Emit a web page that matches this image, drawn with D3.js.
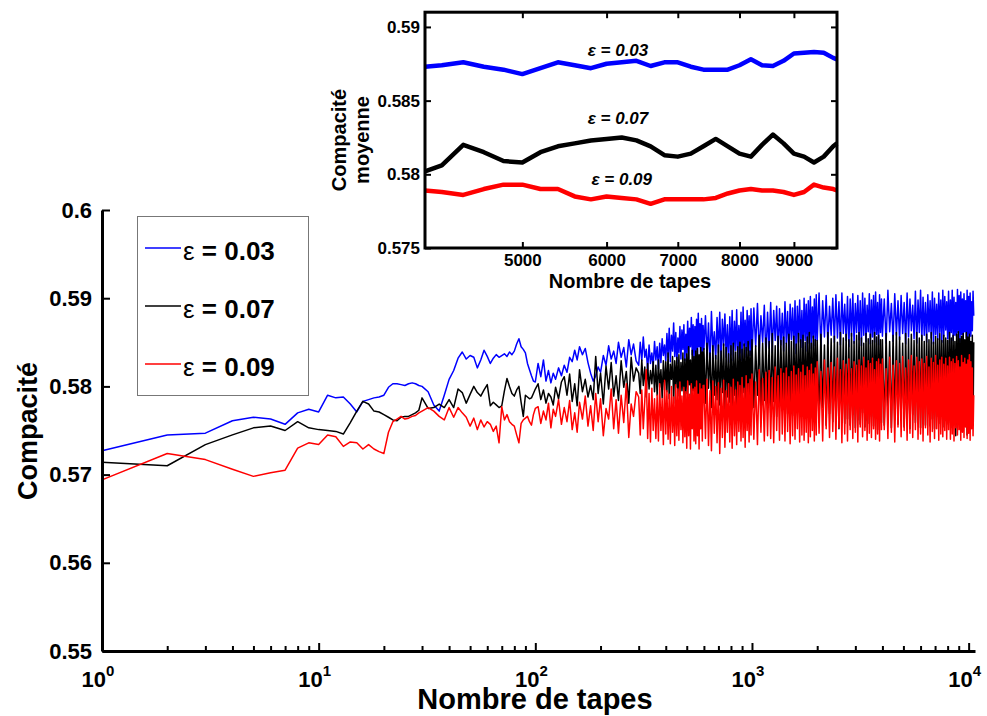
<!DOCTYPE html>
<html><head><meta charset="utf-8">
<script src="https://cdn.jsdelivr.net/npm/d3@7"></script>
<style>html,body{margin:0;padding:0;background:#fff;} svg{display:block;font-family:"Liberation Sans",Arial,sans-serif;}</style>
</head><body><svg id="c" width="987" height="716"></svg>
<script>
// ---------- DATA ----------
const taps = [
 1,2,3,4,5,6,7,8,9,10,11,12,13,14,15,16,17,18,19,20,21,22,23,24,25,26,27,28,29,30,
 32,34,36,38,40,42,44,46,48,50,52,54,56,58,60,62,64,66,68,70,72,74,76,78,80,82,84,86,88,90,92,94,96,98,100,
 103,106,109,112,115,118,121,124,128,132,
 136,140,144,148,152,156,160,165,170,175,
 180,185,190,195,200,206,212,218,224,230,
 236,242,249,256,263,270,277,284,292,
 300,305,310,315,320,325,330,335,340,345,350,355,360,365,370,375,380,385,390,395,
 400,405,410,415,420,425,430,435,440,445,450,455,460,465,470,475,480,485,490,495,
 500,505,510,515,520,525,530,535,540,545,550,555,560,565,570,575,580,585,590,595,
 600,610,620,630,640,650,660,670,680,690,700,710,720,730,740,750,760,770,780,790,
 800,810,820,830,840,850,860,870,880,890,900,910,920,930,940,950,960,970,980,990,
 1000,1020,1040,1060,1080,1100,1120,1140,1160,1180,1200,1220,1240,1260,1280,1300,1320,1340,1360,1380,
 1400,1420,1440,1460,1480,1500,1520,1540,1560,1580,1600,1620,1640,1660,1680,1700,1720,1740,1760,1780,
 1800,1820,1840,1860,1880,1900,1920,1940,1960,1980,
 2000,2040,2080,2120,2160,2200,2240,2280,2320,2360,2400,2440,2480,2520,2560,2600,2640,2680,2720,2760,
 2800,2840,2880,2920,2960,3000,3040,3080,3120,3160,3200,3240,3280,3320,3360,3400,3440,3480,3520,3560,
 3600,3640,3680,3720,3760,3800,3840,3880,3920,3960,
 4000,4080,4160,4240,4320,4400,4480,4560,4640,4720,4800,4880,4960,5040,5120,5200,5280,5360,5440,5520,
 5600,5680,5760,5840,5920,6000,6080,6160,6240,6320,6400,6480,6560,6640,6720,6800,6880,6960,7040,7120,
 7200,7280,7360,7440,7520,7600,7680,7760,7840,7920,
 8000,8080,8160,8240,8320,8400,8480,8560,8640,8720,8800,8880,8960,9040,9120,9200,9280,9360,9440,9520,
 9600,9680,9760,9840,9920,10000,10080,10160,10240,10320,10400,10480,10560
];
const blueMain = [
 0.5727,0.5745,0.5747,0.5761,0.5765,0.5763,0.5757,0.5770,0.5774,0.5771,
 0.5790,0.5787,0.5788,0.5780,0.5771,0.5783,0.5785,0.5787,0.5788,0.5790,
 0.5799,0.5803,0.5803,0.5802,0.5801,0.5803,0.5804,0.5803,0.5801,0.5800,
 0.5794,0.5779,0.5772,0.5790,0.5808,0.5818,0.5832,0.5839,0.5831,0.5835,
 0.5833,0.5821,0.5830,0.5841,0.5834,0.5826,0.5832,0.5836,0.5833,0.5835,
 0.5837,0.5834,0.5839,0.5836,0.5840,0.5848,0.5854,0.5845,0.5842,0.5838,
 0.5826,0.5819,0.5812,0.5806,0.5805,
 // 103-292
 0.5826,0.5811,0.5830,0.5806,0.5818,0.5804,0.5815,0.5808,0.5821,0.5812,
 0.5824,0.5816,0.5833,0.5828,0.5841,0.5830,0.5845,0.5836,0.5843,0.5827,
 0.5815,0.5806,0.5812,0.5822,0.5816,0.5835,0.5824,0.5846,0.5831,0.5840,
 0.5826,0.5850,0.5833,0.5844,0.5822,0.5853,0.5836,0.5848,0.5829,
 // 300-595
 0.5824,0.5850,0.5829,0.5856,0.5833,0.5842,0.5818,0.5847,0.5826,0.5838,
 0.5822,0.5851,0.5830,0.5845,0.5820,0.5849,0.5827,0.5854,0.5835,0.5847,
 0.5829,0.5860,0.5833,0.5866,0.5828,0.5858,0.5840,0.5872,0.5834,0.5861,
 0.5826,0.5855,0.5838,0.5868,0.5831,0.5864,0.5842,0.5870,0.5829,0.5859,
 0.5838,0.5874,0.5831,0.5866,0.5845,0.5878,0.5836,0.5870,0.5829,0.5868,
 0.5840,0.5876,0.5834,0.5883,0.5845,0.5871,0.5830,0.5877,0.5838,0.5869,
 // 600-990
 0.5842,0.5880,0.5835,0.5872,0.5824,0.5885,0.5840,0.5862,0.5831,0.5878,
 0.5838,0.5884,0.5829,0.5876,0.5846,0.5882,0.5833,0.5870,0.5827,0.5879,
 0.5836,0.5886,0.5829,0.5874,0.5841,0.5887,0.5832,0.5869,0.5838,0.5884,
 0.5829,0.5890,0.5846,0.5875,0.5833,0.5886,0.5841,0.5880,0.5835,0.5888,
 // 1000-1980
 0.5834,0.5889,0.5845,0.5894,0.5837,0.5880,0.5850,0.5892,0.5832,0.5884,
 0.5843,0.5895,0.5838,0.5886,0.5852,0.5891,0.5836,0.5888,0.5847,0.5883,
 0.5840,0.5896,0.5849,0.5885,0.5835,0.5893,0.5853,0.5889,0.5842,0.5897,
 0.5837,0.5891,0.5850,0.5898,0.5844,0.5886,0.5838,0.5900,0.5852,0.5893,
 0.5840,0.5897,0.5849,0.5902,0.5843,0.5890,0.5855,0.5899,0.5846,0.5904,
 // 2000-3960
 0.5852,0.5906,0.5844,0.5897,0.5856,0.5903,0.5848,0.5891,0.5858,0.5900,
 0.5850,0.5904,0.5855,0.5896,0.5847,0.5906,0.5860,0.5893,0.5852,0.5902,
 0.5845,0.5899,0.5857,0.5905,0.5849,0.5894,0.5861,0.5903,0.5853,0.5897,
 0.5846,0.5906,0.5858,0.5900,0.5851,0.5892,0.5862,0.5905,0.5848,0.5898,
 0.5856,0.5903,0.5850,0.5907,0.5859,0.5895,0.5847,0.5904,0.5861,0.5899,
 // 4000-7920
 0.5857,0.5899,0.5849,0.5909,0.5862,0.5894,0.5851,0.5905,0.5858,0.5897,
 0.5853,0.5903,0.5860,0.5895,0.5848,0.5906,0.5856,0.5899,0.5863,0.5892,
 0.5854,0.5908,0.5849,0.5898,0.5861,0.5909,0.5852,0.5901,0.5858,0.5895,
 0.5850,0.5904,0.5862,0.5897,0.5855,0.5907,0.5848,0.5900,0.5859,0.5893,
 0.5853,0.5906,0.5861,0.5898,0.5850,0.5909,0.5857,0.5902,0.5864,0.5896,
 // 8000-10560
 0.5854,0.5908,0.5849,0.5898,0.5861,0.5909,0.5852,0.5901,0.5858,0.5895,
 0.5856,0.5910,0.5861,0.5903,0.5850,0.5907,0.5859,0.5899,0.5853,0.5905,
 0.5862,0.5897,0.5855,0.5909,0.5848,0.5902,0.5860,0.5906,0.5857,0.5896,
 0.5863,0.5908,0.5880
];
const blackMain = [
 0.5714,0.5710,0.5734,0.5745,0.5753,0.5755,0.5750,0.5760,0.5753,0.5751,
 0.5750,0.5749,0.5746,0.5759,0.5772,0.5783,0.5780,0.5772,0.5771,0.5768,
 0.5765,0.5762,0.5761,0.5765,0.5766,0.5766,0.5768,0.5770,0.5773,0.5787,
 0.5775,0.5776,0.5780,0.5776,0.5785,0.5776,0.5797,0.5793,0.5781,0.5791,
 0.5800,0.5793,0.5789,0.5796,0.5802,0.5778,0.5782,0.5779,0.5776,0.5778,
 0.5795,0.5809,0.5800,0.5792,0.5789,0.5796,0.5800,0.5782,0.5766,0.5790,
 0.5788,0.5786,0.5787,0.5792,0.5797,
 // 103-292
 0.5803,0.5785,0.5796,0.5781,0.5792,0.5788,0.5779,0.5799,0.5786,0.5805,
 0.5811,0.5790,0.5814,0.5783,0.5803,0.5778,0.5819,0.5794,0.5808,0.5788,
 0.5801,0.5785,0.5834,0.5792,0.5815,0.5780,0.5823,0.5797,0.5827,0.5789,
 0.5812,0.5784,0.5829,0.5799,0.5817,0.5781,0.5833,0.5806,0.5821,
 // 300-595
 0.5815,0.5792,0.5830,0.5801,0.5822,0.5788,0.5826,0.5797,0.5818,0.5803,
 0.5828,0.5794,0.5824,0.5790,0.5830,0.5799,0.5819,0.5787,0.5829,0.5796,
 0.5828,0.5794,0.5838,0.5786,0.5825,0.5808,0.5834,0.5781,0.5829,0.5799,
 0.5833,0.5789,0.5836,0.5784,0.5827,0.5795,0.5838,0.5782,0.5831,0.5792,
 0.5837,0.5790,0.5845,0.5802,0.5830,0.5779,0.5841,0.5795,0.5834,0.5786,
 0.5840,0.5783,0.5843,0.5791,0.5836,0.5778,0.5844,0.5788,0.5839,0.5782,
 // 600-990
 0.5843,0.5781,0.5849,0.5798,0.5838,0.5776,0.5846,0.5790,0.5835,0.5785,
 0.5847,0.5779,0.5840,0.5793,0.5848,0.5774,0.5844,0.5788,0.5837,0.5782,
 0.5846,0.5776,0.5849,0.5790,0.5839,0.5775,0.5845,0.5786,0.5850,0.5779,
 0.5842,0.5793,0.5848,0.5774,0.5844,0.5788,0.5851,0.5782,0.5840,0.5777,
 // 1000-1980
 0.5853,0.5776,0.5846,0.5790,0.5858,0.5771,0.5849,0.5784,0.5855,0.5780,
 0.5851,0.5770,0.5860,0.5783,0.5846,0.5766,0.5857,0.5778,0.5852,0.5772,
 0.5856,0.5781,0.5849,0.5769,0.5859,0.5776,0.5851,0.5767,0.5857,0.5785,
 0.5848,0.5771,0.5860,0.5779,0.5853,0.5766,0.5858,0.5774,0.5850,0.5768,
 0.5856,0.5782,0.5861,0.5770,0.5849,0.5764,0.5857,0.5777,0.5853,0.5769,
 // 2000-3960
 0.5852,0.5762,0.5859,0.5776,0.5847,0.5756,0.5861,0.5769,0.5854,0.5760,
 0.5857,0.5765,0.5850,0.5752,0.5861,0.5771,0.5855,0.5758,0.5859,0.5763,
 0.5853,0.5756,0.5860,0.5768,0.5851,0.5753,0.5858,0.5762,0.5861,0.5757,
 0.5855,0.5770,0.5849,0.5754,0.5860,0.5761,0.5854,0.5758,0.5859,0.5766,
 0.5852,0.5755,0.5861,0.5764,0.5856,0.5751,0.5858,0.5767,0.5853,0.5759,
 // 4000-7920
 0.5853,0.5756,0.5860,0.5768,0.5851,0.5753,0.5858,0.5762,0.5861,0.5757,
 0.5856,0.5766,0.5849,0.5754,0.5860,0.5761,0.5854,0.5752,0.5859,0.5768,
 0.5852,0.5759,0.5861,0.5764,0.5855,0.5753,0.5858,0.5762,0.5851,0.5756,
 0.5859,0.5770,0.5853,0.5755,0.5861,0.5763,0.5850,0.5752,0.5857,0.5766,
 0.5854,0.5758,0.5860,0.5769,0.5852,0.5754,0.5858,0.5761,0.5855,0.5757,
 // 8000-10560
 0.5852,0.5759,0.5861,0.5764,0.5855,0.5753,0.5858,0.5762,0.5851,0.5744,
 0.5859,0.5757,0.5862,0.5760,0.5854,0.5766,0.5857,0.5752,0.5860,0.5763,
 0.5853,0.5758,0.5861,0.5745,0.5856,0.5767,0.5859,0.5755,0.5851,0.5761,
 0.5858,0.5756,0.5850
];
const redMain = [
 0.5694,0.5724,0.5717,0.5706,0.5698,0.5702,0.5705,0.5730,0.5736,0.5734,
 0.5745,0.5743,0.5732,0.5737,0.5736,0.5729,0.5734,0.5729,0.5726,0.5724,
 0.5748,0.5760,0.5763,0.5766,0.5763,0.5764,0.5766,0.5767,0.5770,0.5772,
 0.5776,0.5772,0.5766,0.5762,0.5776,0.5765,0.5776,0.5770,0.5765,0.5755,
 0.5764,0.5751,0.5762,0.5754,0.5760,0.5757,0.5749,0.5755,0.5736,0.5777,
 0.5762,0.5768,0.5760,0.5757,0.5755,0.5745,0.5736,0.5758,0.5762,0.5764,
 0.5766,0.5760,0.5756,0.5768,0.5775,
 // 103-292
 0.5777,0.5758,0.5772,0.5762,0.5781,0.5753,0.5774,0.5766,0.5785,0.5757,
 0.5776,0.5760,0.5784,0.5751,0.5770,0.5748,0.5782,0.5763,0.5789,0.5755,
 0.5778,0.5750,0.5792,0.5760,0.5786,0.5744,0.5775,0.5763,0.5797,0.5752,
 0.5785,0.5747,0.5790,0.5759,0.5803,0.5742,0.5780,0.5766,0.5794,
 // 300-595
 0.5788,0.5745,0.5796,0.5752,0.5783,0.5819,0.5741,0.5792,0.5737,0.5798,
 0.5750,0.5786,0.5741,0.5790,0.5738,0.5803,0.5750,0.5786,0.5734,0.5807,
 0.5746,0.5795,0.5740,0.5791,0.5735,0.5800,0.5748,0.5788,0.5733,0.5802,
 0.5744,0.5797,0.5739,0.5805,0.5751,0.5789,0.5736,0.5799,0.5743,0.5794,
 0.5730,0.5806,0.5744,0.5791,0.5729,0.5803,0.5752,0.5797,0.5738,0.5799,
 0.5735,0.5806,0.5744,0.5791,0.5729,0.5803,0.5752,0.5797,0.5738,0.5801,
 // 600-990
 0.5801,0.5741,0.5808,0.5733,0.5795,0.5727,0.5806,0.5747,0.5800,0.5736,
 0.5804,0.5724,0.5798,0.5742,0.5807,0.5731,0.5795,0.5748,0.5803,0.5737,
 0.5799,0.5730,0.5808,0.5744,0.5796,0.5734,0.5805,0.5749,0.5801,0.5738,
 0.5810,0.5742,0.5798,0.5731,0.5812,0.5750,0.5803,0.5737,0.5808,0.5745,
 // 1000-1980
 0.5814,0.5740,0.5805,0.5734,0.5819,0.5748,0.5809,0.5738,0.5816,0.5744,
 0.5818,0.5741,0.5810,0.5736,0.5822,0.5750,0.5812,0.5739,0.5820,0.5746,
 0.5815,0.5738,0.5821,0.5749,0.5811,0.5735,0.5817,0.5744,0.5823,0.5740,
 0.5813,0.5752,0.5820,0.5737,0.5816,0.5745,0.5824,0.5739,0.5812,0.5748,
 0.5822,0.5736,0.5818,0.5743,0.5825,0.5750,0.5814,0.5738,0.5821,0.5745,
 // 2000-3960
 0.5828,0.5747,0.5817,0.5738,0.5830,0.5752,0.5821,0.5742,0.5827,0.5749,
 0.5822,0.5740,0.5832,0.5753,0.5819,0.5736,0.5829,0.5746,0.5825,0.5738,
 0.5831,0.5751,0.5820,0.5741,0.5828,0.5748,0.5824,0.5737,0.5830,0.5754,
 0.5823,0.5743,0.5833,0.5750,0.5821,0.5739,0.5829,0.5747,0.5826,0.5742,
 0.5832,0.5752,0.5819,0.5740,0.5828,0.5746,0.5831,0.5738,0.5825,0.5751,
 // 4000-7920
 0.5831,0.5751,0.5820,0.5741,0.5833,0.5748,0.5824,0.5737,0.5829,0.5754,
 0.5826,0.5743,0.5834,0.5750,0.5821,0.5739,0.5830,0.5747,0.5835,0.5742,
 0.5823,0.5751,0.5833,0.5740,0.5828,0.5746,0.5831,0.5738,0.5826,0.5753,
 0.5834,0.5745,0.5822,0.5737,0.5832,0.5749,0.5827,0.5741,0.5835,0.5752,
 0.5824,0.5739,0.5830,0.5746,0.5833,0.5743,0.5825,0.5750,0.5832,0.5740,
 // 8000-10560
 0.5823,0.5751,0.5833,0.5740,0.5828,0.5746,0.5831,0.5738,0.5826,0.5753,
 0.5834,0.5745,0.5829,0.5751,0.5822,0.5739,0.5835,0.5748,0.5827,0.5742,
 0.5832,0.5754,0.5825,0.5741,0.5830,0.5747,0.5836,0.5739,0.5828,0.5752,
 0.5821,0.5744,0.5790
];
const seriesNames = ["0.03", "0.07", "0.09"];
const seriesColors = ["#0000ff", "#000000", "#ff0000"];
const xMajorTicks = [1, 10, 100, 1000, 10000];
const xMajorExp = ["0", "1", "2", "3", "4"];
const yTicks = [0.55, 0.56, 0.57, 0.58, 0.59, 0.6];
const yTickLabels = ["0.55", "0.56", "0.57", "0.58", "0.59", "0.6"];

const insetTaps = [4050,4200,4400,4600,4800,5000,5200,5400,5600,5800,6000,6200,6400,6600,6800,7000,7200,7400,7600,7800,8000,8200,8400,8600,8800,9000,9200,9400,9600,9800,9880];
const insetBlue = [0.5873,0.5874,0.5876,0.5873,0.5871,0.5868,0.5872,0.5876,0.5874,0.5872,0.5875,0.5876,0.5877,0.58735,0.5876,0.5876,0.5873,0.5871,0.5871,0.5871,0.5874,0.5878,0.5874,0.58735,0.5877,0.5882,0.58825,0.5883,0.58825,0.5879,0.5878];
const insetBlack = [0.5802,0.5806,0.5820,0.5815,0.5809,0.5808,0.5815,0.5819,0.5821,0.5823,0.5824,0.5825,0.5823,0.5819,0.5813,0.5812,0.5814,0.5819,0.5824,0.5819,0.5814,0.5812,0.5820,0.5827,0.5821,0.5814,0.5812,0.5808,0.5812,0.5819,0.5821];
const insetRed = [0.5789,0.5788,0.5786,0.5790,0.5793,0.5793,0.5790,0.5790,0.5785,0.5783,0.5785,0.5784,0.5783,0.5780,0.5783,0.5783,0.5783,0.5783,0.5784,0.5787,0.5789,0.5790,0.5789,0.5789,0.5788,0.5786,0.5788,0.5793,0.5791,0.5790,0.5789];
const insetXTicks = [5000, 6000, 7000, 8000, 9000];
const insetYTicks = [0.575, 0.58, 0.585, 0.59];
const insetYTickLabels = ["0.575", "0.58", "0.585", "0.59"];
const insetAnnotations = [0.5880, 0.5834, 0.5793];

// ---------- CHART ----------
const svg = d3.select("#c");
const FONT = '"Liberation Sans", Arial, sans-serif';

const x = d3.scaleLog().domain([1, 10700]).range([102, 975]);
const y = d3.scaleLinear().domain([0.55, 0.6]).range([651, 210]);

const mainSeries = [blueMain, blackMain, redMain];
const line = d3.line()
  .defined((d, i) => i < taps.length)
  .x((d, i) => x(taps[i])).y(d => y(d));
mainSeries.forEach((vals, k) => {
  svg.append("path").attr("d", line(vals))
    .attr("fill", "none").attr("stroke", seriesColors[k])
    .attr("stroke-width", 1.5).attr("stroke-linejoin", "round");
});

// x axis
const minor = [];
[1, 10, 100, 1000].forEach(b => { for (let m = 2; m <= 9; m++) minor.push(b * m); });
const gx = svg.append("g").attr("transform", "translate(0,651)");
gx.call(d3.axisBottom(x).tickValues(xMajorTicks).tickSize(-8).tickSizeOuter(0).tickFormat(""));
const gxm = svg.append("g").attr("transform", "translate(0,651)");
gxm.call(d3.axisBottom(x).tickValues(minor).tickSize(-5).tickSizeOuter(0).tickFormat(""));
gxm.select(".domain").remove();
[gx, gxm].forEach(g => { g.selectAll(".tick line").attr("stroke", "#000").attr("stroke-width", 2); });
gx.select(".domain").attr("stroke", "#000").attr("stroke-width", 3);

const xl = svg.append("g");
xMajorTicks.forEach((v, i) => {
  const t = xl.append("text").attr("x", x(v) - 4).attr("y", 687)
    .attr("text-anchor", "middle").attr("font-family", FONT)
    .attr("font-size", 22).attr("font-weight", "bold");
  t.append("tspan").text("10");
  t.append("tspan").attr("dy", -11).attr("font-size", 15).text(xMajorExp[i]);
});

// y axis
const gy = svg.append("g").attr("transform", "translate(102,0)");
gy.call(d3.axisLeft(y).tickValues(yTicks).tickSize(-8).tickSizeOuter(0).tickPadding(10)
  .tickFormat((d, i) => yTickLabels[i]));
gy.select(".domain").attr("stroke", "#000").attr("stroke-width", 3);
gy.selectAll(".tick line").attr("stroke", "#000").attr("stroke-width", 2);
gy.selectAll(".tick text").attr("font-family", FONT).attr("font-size", 22)
  .attr("font-weight", "bold").attr("fill", "#000");

// axis titles
svg.append("text").attr("transform", "translate(37,431) rotate(-90)")
  .attr("text-anchor", "middle").attr("font-family", FONT).attr("font-size", 27)
  .attr("font-weight", "bold").text("Compacité");
svg.append("text").attr("x", 535).attr("y", 709)
  .attr("text-anchor", "middle").attr("font-family", FONT).attr("font-size", 29)
  .attr("font-weight", "bold").text("Nombre de tapes");

// legend
const lg = svg.append("g");
lg.append("rect").attr("x", 137.5).attr("y", 216.5).attr("width", 171).attr("height", 179)
  .attr("fill", "#fff").attr("stroke", "#777").attr("stroke-width", 1);
const legendY = [248, 306, 364];
seriesNames.forEach((n, i) => {
  lg.append("line").attr("x1", 145).attr("x2", 181).attr("y1", legendY[i]).attr("y2", legendY[i])
    .attr("stroke", seriesColors[i]).attr("stroke-width", 1.3);
  const t = lg.append("text").attr("x", 183).attr("y", legendY[i] + 12)
    .attr("font-family", FONT).attr("font-size", 26).attr("fill", "#000");
  t.append("tspan").attr("font-weight", "normal").text("ε");
  t.append("tspan").attr("font-weight", "bold").text(" = " + n);
});

// ---------- INSET ----------
const xi = d3.scaleLog().domain([4050, 9880]).range([425, 837]);
const yi = d3.scaleLinear().domain([0.575, 0.591]).range([248, 12.2]);
const ig = svg.append("g");
ig.append("rect").attr("x", 425).attr("y", 12.2).attr("width", 412).attr("height", 235.8)
  .attr("fill", "#fff");
const iline = d3.line().x((d, i) => xi(insetTaps[i])).y(d => yi(d));
[insetBlue, insetBlack, insetRed].forEach((vals, k) => {
  ig.append("path").attr("d", iline(vals)).attr("fill", "none")
    .attr("stroke", seriesColors[k]).attr("stroke-width", 4.5).attr("stroke-linejoin", "round");
});
const ib = ig.append("g").attr("transform", "translate(0,248)")
  .call(d3.axisBottom(xi).tickValues(insetXTicks).tickSize(-6).tickSizeOuter(0).tickPadding(6).tickFormat(d3.format("d")));
const it = ig.append("g").attr("transform", "translate(0,12.2)")
  .call(d3.axisTop(xi).tickValues(insetXTicks).tickSize(-6).tickSizeOuter(0).tickFormat(""));
const il = ig.append("g").attr("transform", "translate(425,0)")
  .call(d3.axisLeft(yi).tickValues(insetYTicks).tickSize(-6).tickSizeOuter(0).tickPadding(5)
    .tickFormat((d, i) => insetYTickLabels[i]));
const ir = ig.append("g").attr("transform", "translate(837,0)")
  .call(d3.axisRight(yi).tickValues(insetYTicks).tickSize(-6).tickSizeOuter(0).tickFormat(""));
[ib, it, il, ir].forEach(g => {
  g.select(".domain").remove();
  g.selectAll(".tick line").attr("stroke", "#000").attr("stroke-width", 2);
  g.selectAll(".tick text").attr("font-family", FONT).attr("font-size", 17)
    .attr("font-weight", "bold").attr("fill", "#000");
});
ig.append("rect").attr("x", 425).attr("y", 12.2).attr("width", 412).attr("height", 235.8)
  .attr("fill", "none").attr("stroke", "#000").attr("stroke-width", 3);

ig.append("text").attr("transform", "translate(346,140) rotate(-90)")
  .attr("text-anchor", "middle").attr("font-family", FONT).attr("font-size", 20)
  .attr("font-weight", "bold").text("Compacité");
ig.append("text").attr("transform", "translate(369,140) rotate(-90)")
  .attr("text-anchor", "middle").attr("font-family", FONT).attr("font-size", 20)
  .attr("font-weight", "bold").text("moyenne");
ig.append("text").attr("x", 630).attr("y", 288).attr("text-anchor", "middle")
  .attr("font-family", FONT).attr("font-size", 20).attr("font-weight", "bold")
  .text("Nombre de tapes");

const annX = [6150, 6150, 6200];
insetAnnotations.forEach((v, i) => {
  ig.append("text").attr("x", xi(annX[i])).attr("y", yi(v))
    .attr("text-anchor", "middle").attr("font-family", FONT).attr("font-size", 17)
    .attr("font-weight", "bold").attr("font-style", "italic")
    .text("ε = " + seriesNames[i]);
});
</script></body></html>
